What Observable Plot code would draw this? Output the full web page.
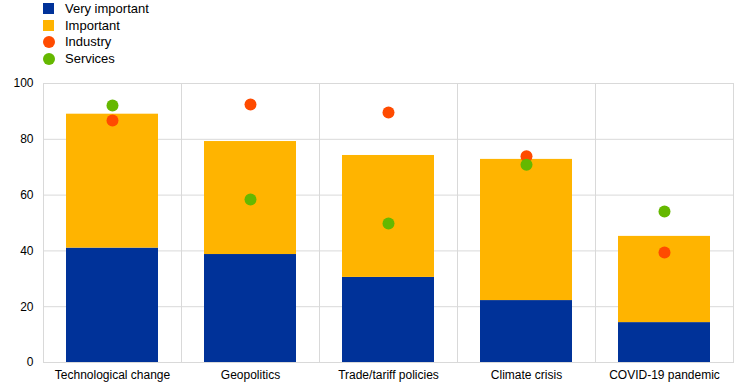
<!DOCTYPE html>
<html><head><meta charset="utf-8">
<script src="https://cdn.jsdelivr.net/npm/d3@7"></script>
<script src="https://cdn.jsdelivr.net/npm/@observablehq/plot@0.6"></script>
<style>
body{margin:0;background:#fff;font-family:"Liberation Sans",Arial,sans-serif;}
#legend{height:68px;padding-left:43px;box-sizing:border-box;padding-top:0px;font-size:13px;color:#000;}
.li{height:16.8px;display:flex;align-items:center;}
.sw{width:11px;height:11px;margin-right:11px;}
.ci{width:12px;height:12px;border-radius:50%;margin-right:10px;}
</style></head><body>
<div id="legend"></div>
<div id="chart"></div>
<script>
const categories = ["Technological change","Geopolitics","Trade/tariff policies","Climate crisis","COVID-19 pandemic"];
const veryImportant = [41, 38.7, 30.5, 22.2, 14.3];
const important = [48, 40.5, 43.7, 50.6, 30.9];
const industry = [86.7, 92.5, 89.6, 73.9, 39.4];
const services = [92.1, 58.4, 49.8, 70.9, 54.1];
const yTicks = [0,20,40,60,80,100];
const barSeries = ["Very important","Important"];
const colors = {"Very important":"#003299","Important":"#FFB400","Industry":"#FF4B00","Services":"#65B800"};

const leg = document.getElementById("legend");
[["Very important","sw"],["Important","sw"],["Industry","ci"],["Services","ci"]].forEach(([n,c])=>{
  const d=document.createElement("div");d.className="li";
  d.innerHTML=`<span class="${c}" style="background:${colors[n]}"></span><span>${n}</span>`;
  leg.appendChild(d);
});

const bars = [];
categories.forEach((c,i)=>{
  bars.push({category:c, series:barSeries[0], value:veryImportant[i]});
  bars.push({category:c, series:barSeries[1], value:important[i]});
});
const dots = [];
categories.forEach((c,i)=>{
  dots.push({category:c, series:"Industry", value:industry[i]});
  dots.push({category:c, series:"Services", value:services[i]});
});

const chart = Plot.plot({
  width:742, height:320,
  marginLeft:43, marginRight:9, marginTop:15, marginBottom:26,
  style:{fontFamily:"Liberation Sans, Arial, sans-serif", fontSize:"12px", color:"#000"},
  fx:{domain:categories, padding:0, label:null, tickSize:0, tickPadding:8},
  y:{domain:[0,100], ticks:yTicks, label:null, tickSize:0, tickPadding:10},
  color:{domain:Object.keys(colors), range:Object.values(colors)},
  marks:[
    Plot.gridY(yTicks,{stroke:"#d9d9d9", strokeOpacity:1}),
    Plot.frame({stroke:"#d9d9d9"}),
    Plot.barY(bars,{fx:"category", y:"value", fill:"series", insetLeft:23, insetRight:23}),
    Plot.dot(dots,{fx:"category", y:"value", fill:"series", r:6})
  ]
});
document.getElementById("chart").appendChild(chart);
</script>
</body></html>
